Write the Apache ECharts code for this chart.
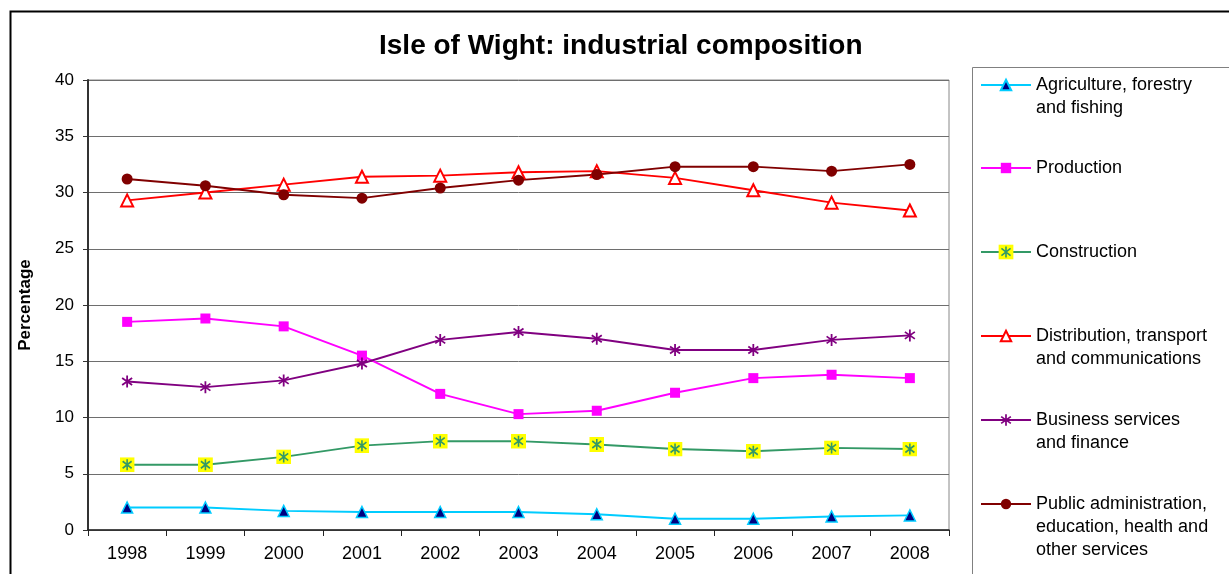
<!DOCTYPE html>
<html>
<head>
<meta charset="utf-8">
<script src="https://cdn.jsdelivr.net/npm/echarts@6/dist/echarts.min.js"></script>
<style>
  html, body { margin: 0; padding: 0; background: #fff; }
  #main { width: 1229px; height: 574px; }
</style>
</head>
<body>
<div id="main"></div>
<script>
/* data */
var years = ['1998', '1999', '2000', '2001', '2002', '2003', '2004', '2005', '2006', '2007', '2008'];
var agriculture = [2.0, 2.0, 1.7, 1.6, 1.6, 1.6, 1.4, 1.0, 1.0, 1.2, 1.3];
var production = [18.5, 18.8, 18.1, 15.5, 12.1, 10.3, 10.6, 12.2, 13.5, 13.8, 13.5];
var construction = [5.8, 5.8, 6.5, 7.5, 7.9, 7.9, 7.6, 7.2, 7.0, 7.3, 7.2];
var distribution = [29.3, 30.0, 30.7, 31.4, 31.5, 31.8, 31.9, 31.3, 30.2, 29.1, 28.4];
var business = [13.2, 12.7, 13.3, 14.8, 16.9, 17.6, 17.0, 16.0, 16.0, 16.9, 17.3];
var publicAdmin = [31.2, 30.6, 29.8, 29.5, 30.4, 31.1, 31.6, 32.3, 32.3, 31.9, 32.5];

var names = [
  'Agriculture, forestry\nand fishing',
  'Production',
  'Construction',
  'Distribution, transport\nand communications',
  'Business services\nand finance',
  'Public administration,\neducation, health and\nother services'
];

// star markers (excel style) as small svg images
function svgSymbol(svg) {
  return 'image://data:image/svg+xml;charset=utf-8,' + encodeURIComponent(svg);
}
var starYellow = svgSymbol('<svg xmlns="http://www.w3.org/2000/svg" width="30" height="30" viewBox="0 0 15 15">' +
  '<rect x="0" y="0" width="15" height="15" fill="#ffff00"/>' +
  '<path d="M7.5 2 L7.5 13 M3 4 L12 11 M12 4 L3 11" stroke="#339966" stroke-width="1.6" fill="none"/></svg>');
var starPurple = svgSymbol('<svg xmlns="http://www.w3.org/2000/svg" width="28" height="28" viewBox="0 0 14 14">' +
  '<path d="M7 1 L7 13 M2 3.5 L12 10.5 M12 3.5 L2 10.5" stroke="#800080" stroke-width="1.8" fill="none"/></svg>');

var FONT = '"Liberation Sans", Arial, sans-serif';

var myChart = echarts.init(document.getElementById('main'), null, {renderer: 'canvas'});

function lineSeries(name, data, color, symbol, size, itemStyle) {
  return {
    name: name,
    type: 'line',
    data: data,
    symbol: symbol,
    symbolSize: size,
    showAllSymbol: true,
    animation: false,
    lineStyle: {color: color, width: 2},
    itemStyle: itemStyle,
    emphasis: {disabled: true}
  };
}

var series = [
  lineSeries(names[0], agriculture, '#00ccff', 'triangle', 11, {color: '#000080', borderColor: '#00ccff', borderWidth: 1.5}),
  lineSeries(names[1], production, '#ff00ff', 'rect', 10, {color: '#ff00ff'}),
  lineSeries(names[2], construction, '#339966', starYellow, 15, {color: '#339966'}),
  lineSeries(names[3], distribution, '#ff0000', 'triangle', 12, {color: '#ffffff', borderColor: '#ff0000', borderWidth: 2}),
  lineSeries(names[4], business, '#800080', starPurple, 14, {color: '#800080'}),
  lineSeries(names[5], publicAdmin, '#800000', 'circle', 11, {color: '#800000'})
];

// one legend per entry so the icon sits on the first text line
var iconY = [85, 168, 252, 336, 420, 504];
var iconH = [13, 13, 19, 13, 17, 13];
var lh = 23;
var legends = names.map(function (nm, i) {
  var n = nm.split('\n').length;
  var pad = new Array(n).join('\n');
  return {
    data: [nm],
    orient: 'vertical',
    left: 980,
    top: iconY[i] - (2 * n - 1) * lh / 2,
    padding: 0,
    itemWidth: 50,
    itemHeight: iconH[i],
    selectedMode: false,
    formatter: function (name) { return pad + name; },
    textStyle: {fontFamily: FONT, fontSize: 18, color: '#000', lineHeight: lh}
  };
});

var option = {
  backgroundColor: '#fff',
  animation: false,
  title: {
    text: 'Isle of Wight: industrial composition',
    left: 374,
    top: 27,
    textStyle: {fontFamily: FONT, fontSize: 28, fontWeight: 'bold', color: '#000'}
  },
  legend: legends,
  grid: {left: 88, right: 280, top: 80, bottom: 44, show: true, borderColor: '#888', borderWidth: 1},
  xAxis: {
    type: 'category',
    data: years,
    boundaryGap: true,
    axisLine: {lineStyle: {color: '#222', width: 1.5}},
    axisTick: {show: true, length: 6, lineStyle: {color: '#222'}},
    axisLabel: {fontFamily: FONT, fontSize: 18, color: '#000', margin: 15}
  },
  yAxis: {
    type: 'value',
    min: 0,
    max: 40,
    interval: 5,
    name: 'Percentage',
    nameLocation: 'middle',
    nameRotate: 90,
    nameGap: 54,
    nameTextStyle: {fontFamily: FONT, fontSize: 17, fontWeight: 'bold', color: '#000'},
    axisLine: {show: true, lineStyle: {color: '#333', width: 2}},
    axisTick: {show: true, length: 5, lineStyle: {color: '#333'}},
    axisLabel: {fontFamily: FONT, fontSize: 17, color: '#000', margin: 14},
    splitLine: {lineStyle: {color: '#6e6e6e', width: 1}}
  },
  graphic: [
    {type: 'rect', left: 8, top: 9, shape: {width: 1240, height: 600}, silent: true, z: -1,
      style: {fill: 'none', stroke: '#000', lineWidth: 2}},
    {type: 'rect', left: 970, top: 65, shape: {width: 257, height: 507}, silent: true, z: -1,
      style: {fill: 'none', stroke: '#808080', lineWidth: 1}}
  ],
  series: series
};

myChart.setOption(option);
</script>
</body>
</html>
